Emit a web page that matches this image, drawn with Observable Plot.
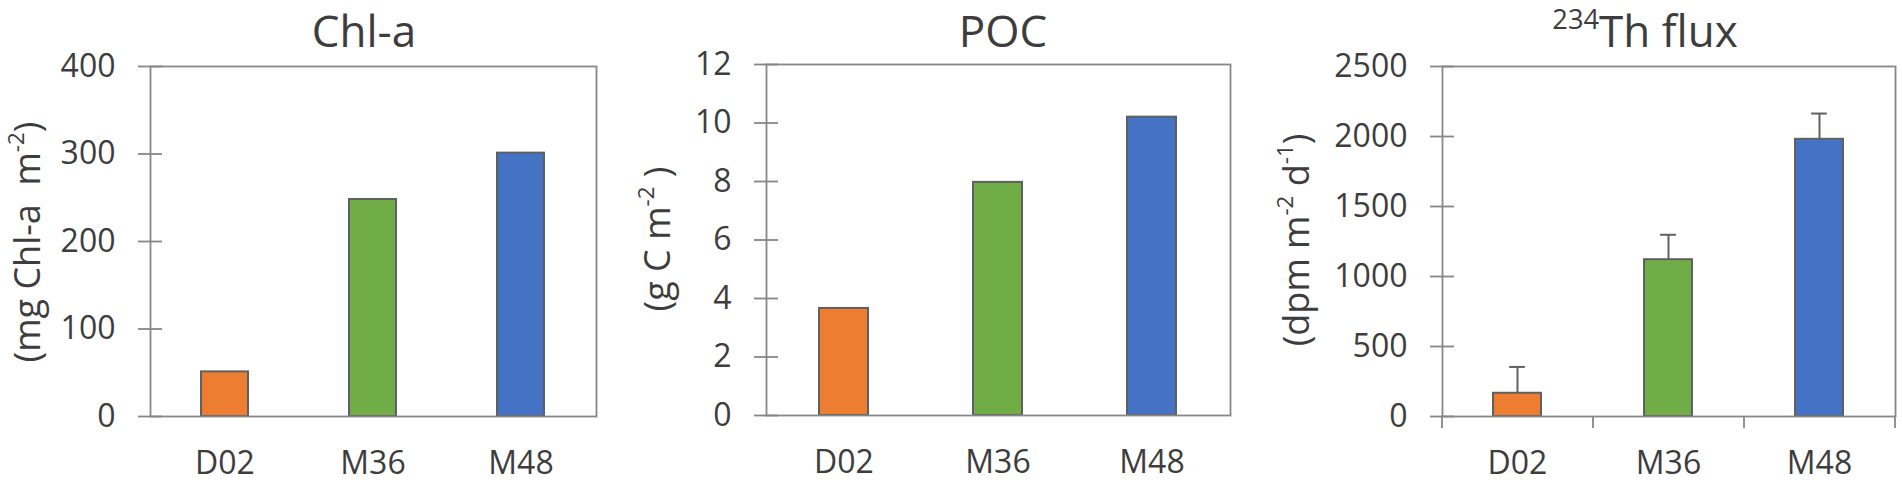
<!DOCTYPE html>
<html><head><meta charset="utf-8">
<script src="https://cdn.jsdelivr.net/npm/d3@7"></script>
<script src="https://cdn.jsdelivr.net/npm/@observablehq/plot@0.6"></script>
<style>
html,body{margin:0;padding:0;background:#fff;}
#wrap{position:relative;width:1902px;height:483px;overflow:hidden;background:#fff;}
#wrap > svg{position:absolute;top:0;}
</style></head><body><div id="wrap"></div>
<script>
// ---- data ----
const sites = ["D02", "M36", "M48"];
const siteColors = ["#ED7D31", "#70AD47", "#4472C4"];
const chla = [51, 248, 301];
const chlaTicks = [0, 100, 200, 300, 400];
const poc = [3.66, 7.97, 10.2];
const pocTicks = [0, 2, 4, 6, 8, 10, 12];
const thFlux = [166, 1120, 1980];
const thFluxErr = [188, 178, 184];
const thTicks = [0, 500, 1000, 1500, 2000, 2500];

const TEXT = "#3d3d3d", LINE = "#878787", BAR_STROKE = "#606060";
const FONT = "Open Sans";
const H = 483;

function richText(sel, parts, fs) {
  let raised = false;
  parts.forEach(([t, sup]) => {
    const ts = sel.append("tspan").text(t);
    if (sup) {
      ts.attr("font-size", fs * 0.62);
      if (!raised) ts.attr("dy", -fs * 0.42);
      raised = true;
    } else {
      ts.attr("font-size", fs);
      if (raised) ts.attr("dy", fs * 0.42);
      raised = false;
    }
  });
}

function panel(o) {
  const data = sites.map((s, i) => ({site: s, value: o.values[i], err: o.errs ? o.errs[i] : 0}));
  const fw = o.width - o.ml - o.mr, fh = H - o.mt - o.mb;
  const step = fw / sites.length;
  const bw = step * 0.32;
  const marks = [
    Plot.barY(data, {x: "site", y: "value", fill: "site", stroke: BAR_STROKE, strokeWidth: 2})
  ];
  if (o.errs) {
    marks.push(Plot.ruleX(data, {x: "site", y1: "value", y2: d => d.value + d.err, stroke: BAR_STROKE, strokeWidth: 2}));
    marks.push(Plot.tickY(data, {x: "site", y: d => d.value + d.err, stroke: BAR_STROKE, strokeWidth: 2, insetLeft: (bw - 16) / 2, insetRight: (bw - 16) / 2}));
  }
  marks.push(Plot.frame({stroke: LINE, strokeWidth: 1.8}));
  // y ticks crossing the axis
  marks.push(Plot.ruleY(o.ticks, {y: d => d, insetRight: fw - 24, dx: -12, stroke: LINE, strokeWidth: 1.8}));
  marks.push(Plot.axisY({ticks: o.ticks, tickSize: 0, tickPadding: 35, label: null, tickFormat: d => String(d)}));
  marks.push(Plot.axisX({tickSize: 0, tickPadding: 35, label: null}));
  if (o.boundaryTicks) {
    marks.push(Plot.ruleX(sites, {x: d => d, dx: step / 2, insetTop: fh, insetBottom: -12, stroke: LINE, strokeWidth: 1.8}));
    marks.push(Plot.ruleX([sites[0]], {x: d => d, dx: -step / 2, insetTop: fh, insetBottom: -12, stroke: LINE, strokeWidth: 1.8}));
  }
  const svg = Plot.plot({
    width: o.width, height: H,
    marginLeft: o.ml, marginRight: o.mr, marginTop: o.mt, marginBottom: o.mb,
    x: {domain: sites, paddingInner: 0.68, paddingOuter: 0.34},
    y: {domain: [o.ticks[0], o.ticks[o.ticks.length - 1]]},
    color: {domain: sites, range: siteColors},
    style: {fontFamily: FONT, fontSize: "32px", color: TEXT, background: "transparent", overflow: "visible"},
    marks
  });
  svg.style.left = o.left + "px";
  const s = d3.select(svg);
  const t = s.append("text").attr("x", o.titleX).attr("y", o.titleY)
    .attr("text-anchor", "middle").attr("fill", TEXT).attr("font-family", FONT)
    .attr("font-size", 44);
  richText(t, o.title, 44);
  const yl = s.append("text")
    .attr("transform", `translate(${o.ylabelX},${o.ylabelY}) rotate(-90)`)
    .attr("text-anchor", "middle").attr("dy", "0.32em").attr("fill", TEXT)
    .attr("font-family", FONT).attr("font-size", 36).style("white-space", "pre");
  richText(yl, o.ylabel, 36);
  document.getElementById("wrap").appendChild(svg);
}

panel({left: 0, width: 620, ml: 150, mr: 24, mt: 66, mb: 67, values: chla, ticks: chlaTicks,
  title: [["Chl-a"]], titleX: 364, titleY: 47,
  ylabel: [["(mg Chl-a  m"], ["-2", true], [")"]], ylabelX: 28, ylabelY: 242});
panel({left: 620, width: 620, ml: 146, mr: 10, mt: 64, mb: 68, values: poc, ticks: pocTicks,
  title: [["POC"]], titleX: 383, titleY: 47,
  ylabel: [["(g C m"], ["-2", true], [" )"]], ylabelX: 38, ylabelY: 239});
panel({left: 1240, width: 662, ml: 202, mr: 7, mt: 66, mb: 67, values: thFlux, errs: thFluxErr, ticks: thTicks,
  title: [["234", true], ["Th flux"]], titleX: 405, titleY: 47, boundaryTicks: true,
  ylabel: [["(dpm m"], ["-2", true], [" d"], ["-1", true], [")"]], ylabelX: 57, ylabelY: 240});
</script></body></html>
